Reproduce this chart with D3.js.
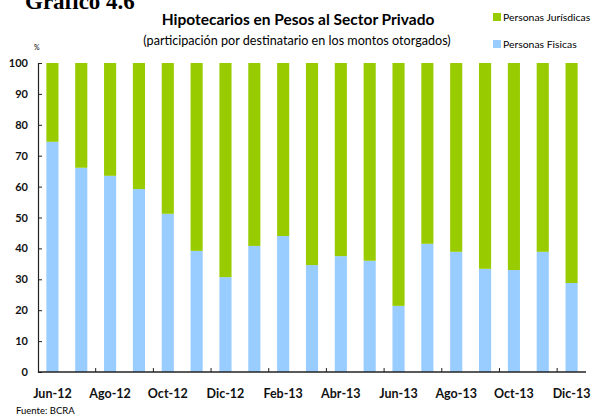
<!DOCTYPE html>
<html>
<head>
<meta charset="utf-8">
<script src="https://cdn.jsdelivr.net/npm/d3@7"></script>
<style>
  body { margin: 0; background: #fff; }
  svg { display: block; }
</style>
</head>
<body>
<svg id="chart" width="593" height="416"></svg>
<script>
const months = ["Jun-12", "Jul-12", "Ago-12", "Sep-12", "Oct-12", "Nov-12", "Dic-12",
    "Ene-13", "Feb-13", "Mar-13", "Abr-13", "May-13", "Jun-13", "Jul-13",
    "Ago-13", "Sep-13", "Oct-13", "Nov-13", "Dic-13"];
const fisicas = [74.5, 66.1, 63.5, 59.2, 51.2, 39.2, 30.7, 40.8, 44.0, 34.6,
    37.5, 36.0, 21.4, 41.5, 38.9, 33.4, 33.0, 38.9, 28.8];
const juridicas = fisicas.map(v => 100 - v);
const xLabels = ["Jun-12", "Ago-12", "Oct-12", "Dic-12", "Feb-13", "Abr-13",
    "Jun-13", "Ago-13", "Oct-13", "Dic-13"];
const yTicks = [0, 10, 20, 30, 40, 50, 60, 70, 80, 90, 100];

const green = "#99cc00", blue = "#99ccff";
const font = "Lato, 'Open Sans', sans-serif";

const svg = d3.select("#chart");

const x = d3.scaleBand()
    .domain(months)
    .range([38, 586])
    .paddingInner(0.58)
    .paddingOuter(0.29);
const y = d3.scaleLinear()
    .domain([0, 100])
    .range([372, 63]);

// stacked data
const rows = months.map((m, i) => ({ month: m, fisicas: fisicas[i], juridicas: juridicas[i] }));
const stack = d3.stack().keys(["fisicas", "juridicas"])(rows);
const colors = { fisicas: blue, juridicas: green };

svg.append("g").selectAll("g")
    .data(stack)
    .join("g")
    .attr("fill", d => colors[d.key])
    .selectAll("rect")
    .data(d => d)
    .join("rect")
    .attr("x", d => x(d.data.month))
    .attr("width", x.bandwidth())
    .attr("y", d => y(d[1]))
    .attr("height", d => y(d[0]) - y(d[1]));

// y axis
const yAxis = svg.append("g")
    .attr("transform", "translate(38,0)")
    .call(d3.axisRight(y).tickValues(yTicks).tickSize(4).tickFormat(d3.format("d")));
yAxis.select(".domain").attr("stroke", "#222").attr("stroke-width", 1.2);
yAxis.selectAll(".tick line").attr("stroke", "#222");
yAxis.selectAll(".tick text")
    .attr("x", -10)
    .attr("text-anchor", "end")
    .style("font-family", font)
    .style("font-weight", "bold")
    .style("font-size", "11px")
    .attr("fill", "#111");

// x axis line + ticks (every two months, between bars)
const step = x.step();
const gap = step - x.bandwidth();
svg.append("line")
    .attr("x1", x.range()[0]).attr("x2", x.range()[1])
    .attr("y1", y(0)).attr("y2", y(0))
    .attr("stroke", "#222").attr("stroke-width", 1.4);
const tickMonths = months.filter((m, i) => i > 0 && i % 2 === 0);
svg.append("g").selectAll("line")
    .data(tickMonths)
    .join("line")
    .attr("x1", d => x(d) - gap / 2)
    .attr("x2", d => x(d) - gap / 2)
    .attr("y1", y(0))
    .attr("y2", y(0) - 4)
    .attr("stroke", "#222");

svg.append("g").selectAll("text")
    .data(xLabels)
    .join("text")
    .attr("x", d => x(d) + x.bandwidth() / 2)
    .attr("y", 398)
    .attr("text-anchor", "middle")
    .style("font-family", font)
    .style("font-weight", "bold")
    .style("font-size", "12.5px")
    .attr("fill", "#111")
    .text(d => d);

// titles
svg.append("text")
    .attr("x", 25).attr("y", 9)
    .style("font-family", "'Liberation Serif', serif")
    .style("font-weight", "bold")
    .style("font-size", "23px")
    .text("Gráfico 4.6");
svg.append("text")
    .attr("x", 298).attr("y", 25)
    .attr("text-anchor", "middle")
    .style("font-family", font)
    .style("font-weight", "bold")
    .style("font-size", "15.5px")
    .text("Hipotecarios en Pesos al Sector Privado");
svg.append("text")
    .attr("x", 297).attr("y", 45)
    .attr("text-anchor", "middle")
    .style("font-family", font)
    .style("font-size", "12.6px")
    .text("(participación por destinatario en los montos otorgados)");
svg.append("text")
    .attr("x", 34).attr("y", 50)
    .style("font-family", font)
    .style("font-size", "7px")
    .text("%");
svg.append("text")
    .attr("x", 16).attr("y", 414)
    .style("font-family", font)
    .style("font-size", "9.5px")
    .text("Fuente: BCRA");

// legend
const legend = [
    { label: "Personas Jurísdicas", color: green, y: 13 },
    { label: "Personas Fisicas", color: blue, y: 40 }
];
const lg = svg.append("g").selectAll("g")
    .data(legend)
    .join("g")
    .attr("transform", d => `translate(493,${d.y})`);
lg.append("rect").attr("width", 8).attr("height", 8).attr("fill", d => d.color);
lg.append("text")
    .attr("x", 10).attr("y", 8)
    .style("font-family", font)
    .style("font-size", "10.4px")
    .text(d => d.label);
</script>
</body>
</html>
